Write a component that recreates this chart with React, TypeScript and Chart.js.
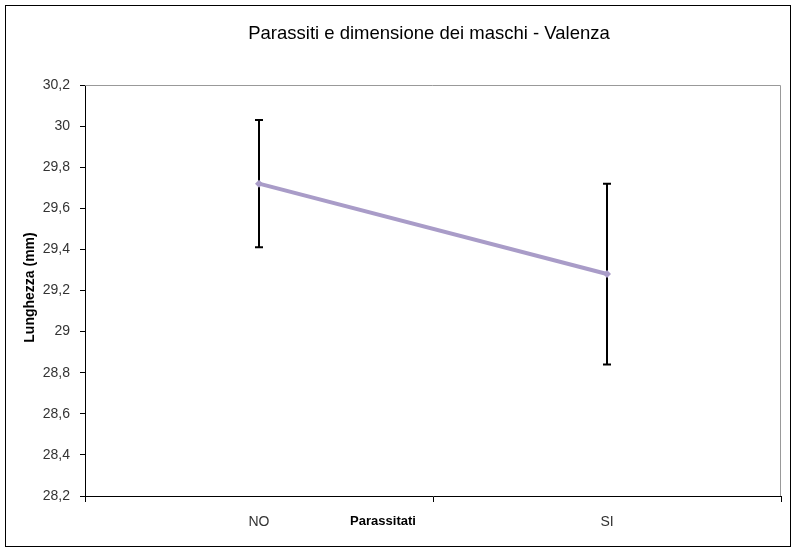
import React, { useEffect, useRef } from "react";
import { Chart, registerables } from "chart.js";

Chart.register(...registerables);

// Data
const categories = ["NO", "SI"];
const meanLength = [29.72, 29.28];
const errLength = [0.31, 0.44];
const yTickValues = [28.2, 28.4, 28.6, 28.8, 29.0, 29.2, 29.4, 29.6, 29.8, 30.0, 30.2];

const chartTitle = "Parassiti e dimensione dei maschi - Valenza";
const xTitle = "Parassitati";
const yTitle = "Lunghezza (mm)";

const FONT = "'Liberation Sans', Arial, sans-serif";

const formatTick = (v: number) => String(Number(v.toFixed(1))).replace(".", ",");

// Vertical error bars with caps, drawn under the line
const errorBarsPlugin = {
  id: "errorBars",
  beforeDatasetsDraw(chart: any) {
    const { ctx, scales } = chart;
    const meta = chart.getDatasetMeta(0);
    ctx.save();
    ctx.strokeStyle = "#000";
    ctx.lineWidth = 2;
    meta.data.forEach((pt: any, i: number) => {
      const x = Math.round(pt.x);
      const yTop = scales.y.getPixelForValue(meanLength[i] + errLength[i]);
      const yBot = scales.y.getPixelForValue(meanLength[i] - errLength[i]);
      ctx.beginPath();
      ctx.moveTo(x, yTop);
      ctx.lineTo(x, yBot);
      ctx.moveTo(x - 4, yTop);
      ctx.lineTo(x + 4, yTop);
      ctx.moveTo(x - 4, yBot);
      ctx.lineTo(x + 4, yBot);
      ctx.stroke();
    });
    ctx.restore();
  },
};

// Plot-area frame (top/right) and the chart's text labels
const decorPlugin = {
  id: "decor",
  afterDraw(chart: any) {
    const { ctx, chartArea } = chart;
    const { left, right, top, bottom } = chartArea;
    ctx.save();
    ctx.strokeStyle = "#999";
    ctx.lineWidth = 1;
    ctx.beginPath();
    ctx.moveTo(left, Math.round(top) + 0.5);
    ctx.lineTo(Math.round(right) - 0.5, Math.round(top) + 0.5);
    ctx.lineTo(Math.round(right) - 0.5, bottom);
    ctx.stroke();

    ctx.fillStyle = "#000";
    ctx.textAlign = "center";
    ctx.textBaseline = "middle";
    ctx.font = `18.5px ${FONT}`;
    ctx.fillText(chartTitle, 429, 34);

    ctx.font = `bold 13px ${FONT}`;
    ctx.fillText(xTitle, 383, 521);

    ctx.font = `bold 14px ${FONT}`;
    ctx.translate(30, (top + bottom) / 2 - 3);
    ctx.rotate(-Math.PI / 2);
    ctx.fillText(yTitle, 0, 0);
    ctx.restore();
  },
};

export default function App() {
  const canvasRef = useRef<HTMLCanvasElement | null>(null);

  useEffect(() => {
    if (!canvasRef.current) return;
    const chart = new Chart(canvasRef.current, {
      type: "line",
      data: {
        labels: categories,
        datasets: [
          {
            data: meanLength,
            borderColor: "#A99CC8",
            backgroundColor: "#A99CC8",
            borderWidth: 4,
            pointStyle: "rectRot",
            pointRadius: 4,
            pointBorderWidth: 0,
            tension: 0,
          },
        ],
      },
      options: {
        animation: false,
        responsive: false,
        maintainAspectRatio: false,
        layout: { padding: { left: 0, right: 14, top: 85, bottom: 0 } },
        plugins: {
          legend: { display: false },
          title: { display: false },
          tooltip: { enabled: false },
        },
        scales: {
          x: {
            type: "category",
            offset: true,
            grid: {
              offset: true,
              drawOnChartArea: false,
              drawTicks: true,
              tickLength: 6,
              color: "#000",
            },
            border: { color: "#000", width: 1 },
            ticks: {
              color: "#333",
              font: { family: FONT, size: 14 },
              padding: 12,
            },
            afterFit: (scale: any) => {
              scale.height = 55;
            },
          },
          y: {
            min: 28.2,
            max: 30.2,
            grid: {
              drawOnChartArea: false,
              drawTicks: true,
              tickLength: 5,
              color: "#000",
            },
            border: { color: "#000", width: 1 },
            ticks: {
              color: "#333",
              font: { family: FONT, size: 14 },
              padding: 10,
              callback: (v: any) => formatTick(Number(v)),
            },
            afterBuildTicks: (scale: any) => {
              scale.ticks = yTickValues.map((v) => ({ value: v }));
            },
            afterFit: (scale: any) => {
              scale.width = 85;
            },
          },
        },
      },
      plugins: [errorBarsPlugin, decorPlugin],
    });
    return () => chart.destroy();
  }, []);

  return (
    <div
      style={{
        position: "fixed",
        left: 0,
        top: 0,
        width: 795,
        height: 551,
        background: "#fff",
      }}
    >
      <div
        style={{
          position: "absolute",
          left: 5,
          top: 5,
          width: 784,
          height: 540,
          border: "1px solid #000",
        }}
      />
      <canvas
        ref={canvasRef}
        width={795}
        height={551}
        style={{ position: "absolute", left: 0, top: 0, width: 795, height: 551 }}
      />
    </div>
  );
}
